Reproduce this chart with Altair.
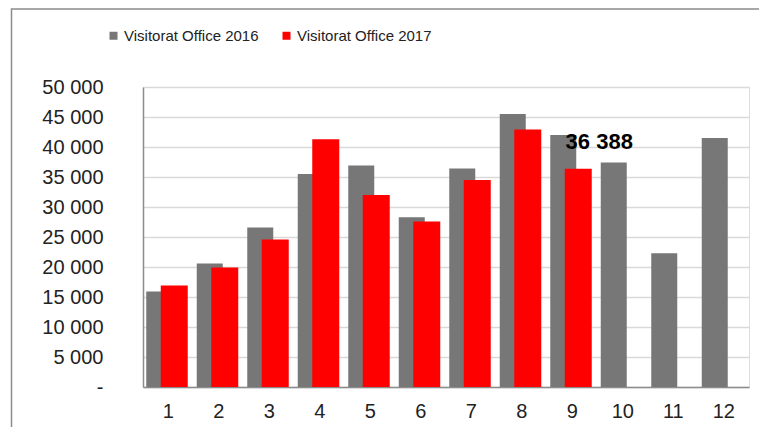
import altair as alt
import pandas as pd

months = [str(i) for i in range(1, 13)]
series_2016 = "Visitorat Office 2016"
series_2017 = "Visitorat Office 2017"
values_2016 = [15900, 20600, 26600, 35500, 36900, 28300, 36400, 45500, 42000, 37400, 22300, 41500]
values_2017 = [16900, 19900, 24600, 41300, 32000, 27600, 34500, 42900, 36388]
label_month = "9"
label_value = 36388
y_ticks = [0, 5000, 10000, 15000, 20000, 25000, 30000, 35000, 40000, 45000, 50000]

rows = [{"month": m, "series": series_2016, "value": v} for m, v in zip(months, values_2016)]
rows += [{"month": m, "series": series_2017, "value": v} for m, v in zip(months, values_2017)]
df = pd.DataFrame(rows)
lab_df = pd.DataFrame([{"month": label_month, "value": label_value, "text": "36 388"}])

FONT = "Liberation Sans"

x_enc = alt.X("month:N", sort=months, scale=alt.Scale(domain=months, paddingInner=0, paddingOuter=0),
              axis=alt.Axis(title=None, labelAngle=0, ticks=False, labelPadding=14, labelFontSize=20,
                            labelFont=FONT, labelColor="#222222", domainColor="#8c8c8c", domainWidth=1.5,
                            grid=False))
y_enc = alt.Y("value:Q", scale=alt.Scale(domain=[0, 50000], nice=False),
              axis=alt.Axis(title=None, values=y_ticks, tickCount=11, ticks=False, labelPadding=40,
                            labelOverlap=False,
                            labelFontSize=20, labelFont=FONT, labelColor="#222222",
                            labelExpr="datum.value == 0 ? '-\u00a0\u00a0\u00a0' : replace(format(datum.value, ','), ',', ' ')",
                            domainColor="#8c8c8c", domainWidth=1.5, gridColor="#d9d9d9", gridWidth=1.5))
color_enc = alt.Color("series:N", scale=alt.Scale(domain=[series_2016, series_2017], range=["#777777", "#ff0000"]),
                      legend=alt.Legend(title=None, orient="none", legendX=-37, legendY=-59, direction="horizontal",
                                        symbolType="square", symbolSize=64, symbolStrokeWidth=0,
                                        labelFont=FONT, labelFontSize=15, labelColor="#222222",
                                        labelOffset=3, columnPadding=20))

base = alt.Chart(df)
gray = base.transform_filter(alt.datum.series == series_2016).mark_bar(width=26, xOffset=-9).encode(
    x=x_enc, y=y_enc, color=color_enc)
red = base.transform_filter(alt.datum.series == series_2017).mark_bar(width=27, xOffset=6).encode(
    x=x_enc, y=y_enc, color=color_enc)
label = alt.Chart(lab_df).mark_text(font=FONT, fontSize=22, fontWeight="bold", color="#000000",
                                    dx=21, dy=-27, xOffset=6).encode(
    x=x_enc, y=y_enc, text="text:N")
frame = alt.Chart(alt.Data(values=[{}])).mark_rect(fill=None, stroke="#8c8c8c", strokeWidth=1.5).encode(
    x=alt.value(-131.5), x2=alt.value(700), y=alt.value(-78), y2=alt.value(600))

chart = alt.layer(frame, gray, red, label).properties(
    width=606, height=300,
    autosize=alt.AutoSizeParams(type="none"),
    padding={"left": 135, "top": 79, "right": 10, "bottom": 40},
).configure_view(stroke=None).configure(background="#ffffff")

chart.save("out.html", embed_options={"renderer": "svg", "actions": False})
